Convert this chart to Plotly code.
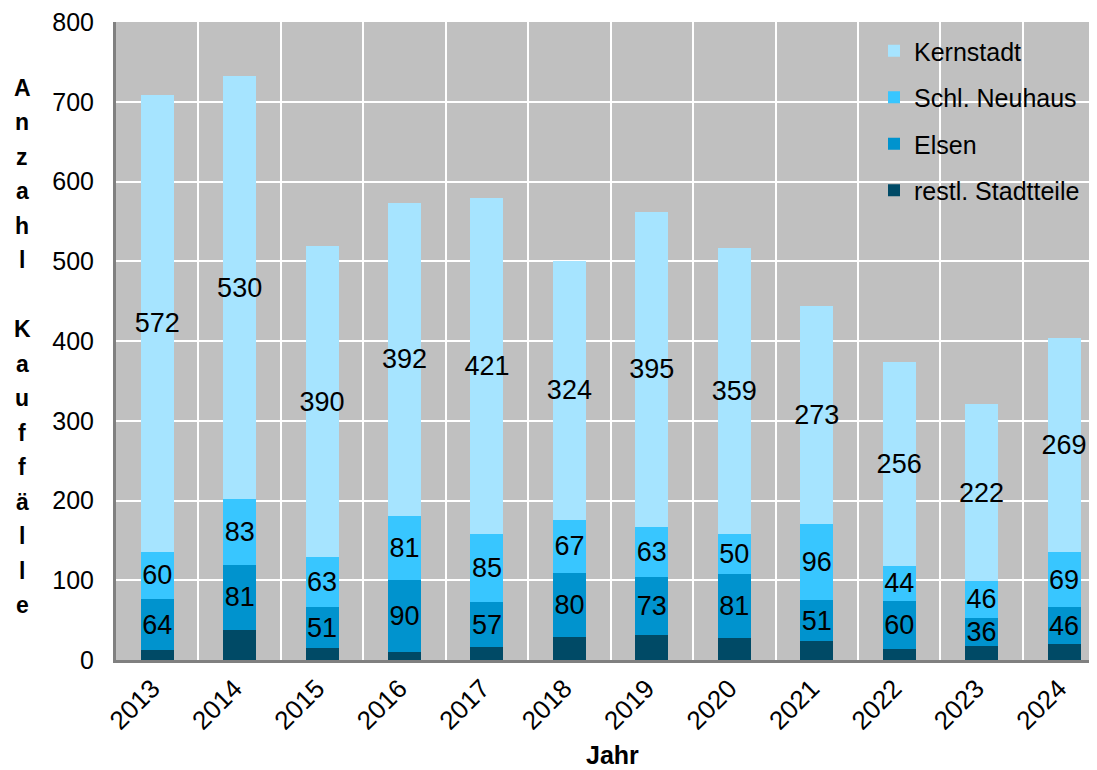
import plotly.graph_objects as go

years = ["2013", "2014", "2015", "2016", "2017", "2018", "2019", "2020", "2021", "2022", "2023", "2024"]
restl = [12, 38, 15, 10, 16, 29, 31, 27, 24, 14, 17, 20]
elsen = [64, 81, 51, 90, 57, 80, 73, 81, 51, 60, 36, 46]
neuhaus = [60, 83, 63, 81, 85, 67, 63, 50, 96, 44, 46, 69]
kernstadt = [572, 530, 390, 392, 421, 324, 395, 359, 273, 256, 222, 269]

series = [
    ("restl. Stadtteile", restl, "#004A66", False, 4),
    ("Elsen", elsen, "#0093CE", True, 3),
    ("Schl. Neuhaus", neuhaus, "#38C6FF", True, 2),
    ("Kernstadt", kernstadt, "#A6E4FF", True, 1),
]

FONT = "Liberation Sans, Arial"
# page has an 8px body margin; compensate so the plot lands where the reference has it
W, H = 1089, 762
L, R, T, B = 108, 0, 14, 110
PW, PH = W - L - R, H - T - B
PL, PB = 116, 660  # plot left / bottom in page pixels


def px(xp):
    return (xp - PL) / PW


def py(yp):
    return (PB - yp) / PH


fig = go.Figure()
for name, vals, col, lab, rank in series:
    fig.add_trace(go.Bar(
        x=years, y=vals, name=name, marker=dict(color=col, line=dict(width=0)),
        text=[str(v) for v in vals] if lab else None,
        textposition="inside" if lab else "none",
        insidetextanchor="middle", textangle=0, constraintext="none",
        textfont=dict(family=FONT, size=27, color="black"),
        legendgroup=name, legendrank=rank, hoverinfo="x+y+name",
    ))

annots = []
letters = list("Anzahl") + [""] + list("Kauffälle")
y0, y1 = 88, 605
n = len(letters)
for i, ch in enumerate(letters):
    if not ch:
        continue
    yy = y0 + (y1 - y0) * i / (n - 1)
    annots.append(dict(text="<b>%s</b>" % ch, xref="paper", yref="paper",
                       x=px(22), y=py(yy),
                       showarrow=False, xanchor="center", yanchor="middle",
                       font=dict(family=FONT, size=23, color="black")))
annots.append(dict(text="<b>Jahr</b>", xref="paper", yref="paper",
                   x=px(612), y=py(755),
                   showarrow=False, xanchor="center", yanchor="middle",
                   font=dict(family=FONT, size=25, color="black")))

fig.update_layout(
    width=W, height=H, margin=dict(l=L, r=R, t=T, b=B),
    barmode="stack", bargap=0.6,
    plot_bgcolor="#C0C0C0", paper_bgcolor="white",
    font=dict(family=FONT, size=25, color="black"),
    showlegend=True,
    legend=dict(traceorder="grouped", tracegroupgap=11,
                x=px(874), y=py(28), xanchor="left", yanchor="top",
                bgcolor="rgba(0,0,0,0)", font=dict(size=25),
                itemwidth=30),
    annotations=annots,
    xaxis=dict(type="category", range=[-0.5, 11.4], tickangle=-45,
               tickson="boundaries", showgrid=True, gridcolor="white", gridwidth=2,
               showline=True, linecolor="#808080", linewidth=3, ticks="",
               tickfont=dict(size=26), ticklabelshift=-5),
    yaxis=dict(range=[0, 800], dtick=100, showgrid=True, gridcolor="white", gridwidth=2,
               showline=True, linecolor="#808080", linewidth=3, ticks="",
               tickfont=dict(size=25), zeroline=False, ticklabelstandoff=14,
               ticklabeloverflow="allow"),
)

fig.write_html("out.html")
